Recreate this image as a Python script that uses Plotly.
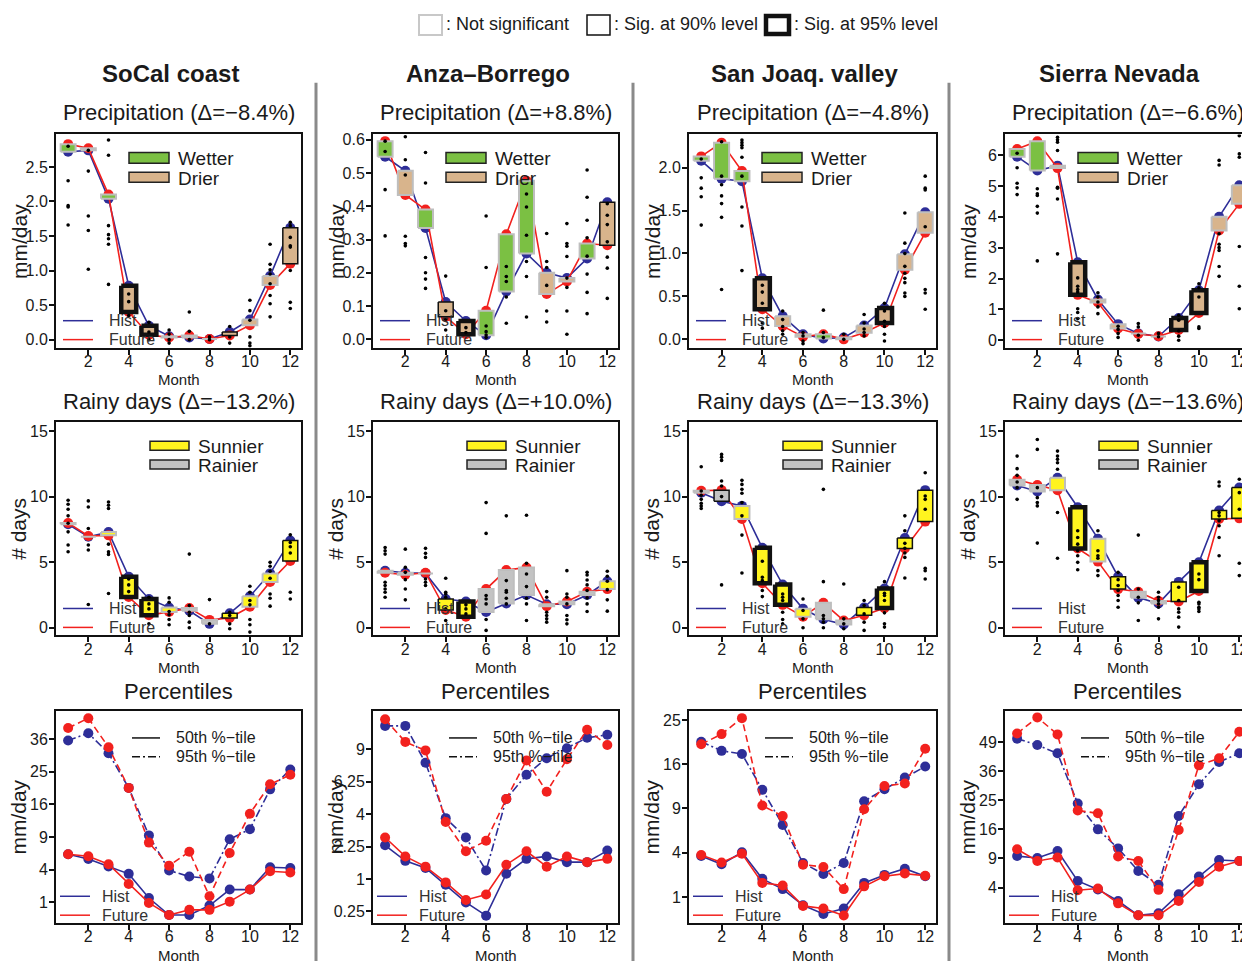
import numpy as np
import plotly.graph_objects as go

W, H = 1250, 963
OFF = 8  # page body margin
FONT = "Liberation Sans, Arial, Helvetica, sans-serif"
months = list(range(1, 13))
month_ticks = [2, 4, 6, 8, 10, 12]

regions = ["SoCal coast", "Anza–Borrego", "San Joaq. valley", "Sierra Nevada"]
pr_titles = ["Precipitation (Δ=−8.4%)", "Precipitation (Δ=+8.8%)",
             "Precipitation (Δ=−4.8%)", "Precipitation (Δ=−6.6%)"]
rd_titles = ["Rainy days (Δ=−13.2%)", "Rainy days (Δ=+10.0%)",
             "Rainy days (Δ=−13.3%)", "Rainy days (Δ=−13.6%)"]

# ---------------- Precipitation (mm/day) ----------------
pr_hist_socal = [2.72, 2.74, 2.04, 0.78, 0.20, 0.05, 0.03, 0.01, 0.11, 0.29, 0.92, 1.62]
pr_fut_socal = [2.83, 2.77, 2.10, 0.40, 0.07, 0.03, 0.06, 0.01, 0.06, 0.21, 0.79, 1.10]
pr_sig_socal = [0, 0, 0, 2, 2, 0, 0, 0, 1, 0, 0, 1]
pr_dots_socal = [
    [2.80, 2.30, 1.94, 1.92, 1.66],
    [2.74, 2.44, 1.79, 1.58, 1.02],
    [2.89, 2.67, 1.65, 1.52, 1.46, 1.38, 0.80],
    [0.66, 0.55, 0.35],
    [0.25, 0.11, 0.0],
    [0.14, 0.08, 0.0, -0.05],
    [0.40, 0.12, 0.0],
    [0.04, 0.0],
    [0.19, 0.04, -0.05],
    [0.57, 0.42, 0.28, 0.04, -0.05, -0.09],
    [1.38, 1.09, 1.01, 0.95, 0.81, 0.64, 0.52, 0.33],
    [1.70, 1.65, 1.48, 1.36, 1.34, 1.00, 0.54, 0.45],
]

pr_hist_anza = [0.549, 0.507, 0.335, 0.112, 0.055, 0.012, 0.144, 0.258, 0.200, 0.184, 0.243, 0.412]
pr_fut_anza = [0.596, 0.434, 0.390, 0.068, 0.015, 0.086, 0.316, 0.477, 0.136, 0.174, 0.288, 0.283]
pr_sig_anza = [0, 0, 0, 1, 2, 0, 0, 0, 0, 0, 0, 1]
pr_dots_anza = [
    [0.596, 0.565, 0.45, 0.311],
    [0.609, 0.54, 0.494, 0.31, 0.288, 0.281],
    [0.562, 0.47, 0.246, 0.20, 0.181, 0.153],
    [0.19, 0.086, 0.06, 0.028],
    [0.035, 0.02],
    [0.371, 0.216, 0.04, 0.023, 0.013, 0.005],
    [0.219, 0.189, 0.174, 0.127, 0.048],
    [0.437, 0.398, 0.313, 0.234, 0.189, 0.067],
    [0.318, 0.234, 0.216, 0.162, 0.085, 0.052],
    [0.348, 0.288, 0.28, 0.249, 0.184, 0.156, 0.085, 0.015],
    [0.509, 0.427, 0.358, 0.305, 0.25, 0.196, 0.141, 0.077],
    [0.408, 0.373, 0.345, 0.293, 0.247, 0.214, 0.123],
]

pr_hist_sj = [2.08, 1.87, 1.84, 0.71, 0.27, 0.058, 0.01, 0.02, 0.16, 0.365, 0.99, 1.48]
pr_fut_sj = [2.13, 2.29, 1.96, 0.35, 0.154, 0.03, 0.06, 0.0, 0.077, 0.19, 0.81, 1.24]
pr_sig_sj = [0, 0, 0, 2, 0, 0, 0, 0, 0, 2, 0, 0]
pr_dots_sj = [
    [2.10, 1.88, 1.76, 1.66, 1.33],
    [2.30, 1.90, 1.80, 1.67, 1.58, 1.42, 0.58],
    [2.32, 2.29, 2.26, 2.23, 2.12, 1.90, 1.54, 1.32, 0.80],
    [0.63, 0.55, 0.42, 0.19, 0.13],
    [0.33, 0.23, 0.15, 0.10, 0.06],
    [0.08, 0.04, -0.02, -0.05],
    [0.34, 0.08, 0.02],
    [0.06, 0.0],
    [0.29, 0.19, 0.12, 0.08, 0.04],
    [0.42, 0.33, 0.21, 0.15, 0.06, -0.02],
    [1.47, 1.12, 1.00, 0.85, 0.77, 0.71, 0.66, 0.54, 0.50],
    [1.90, 1.76, 1.74, 1.31, 0.58, 0.54, 0.35],
]

pr_hist_sierra = [5.95, 5.50, 5.66, 2.53, 1.32, 0.52, 0.22, 0.12, 0.72, 1.62, 4.00, 5.02]
pr_fut_sierra = [6.20, 6.45, 5.58, 1.47, 1.22, 0.38, 0.20, 0.13, 0.33, 0.88, 3.56, 4.42]
pr_sig_sierra = [0, 0, 0, 2, 0, 0, 0, 0, 2, 2, 0, 0]
pr_dots_sierra = [
    [6.06, 5.59, 5.09, 4.94, 4.72],
    [4.91, 4.75, 4.69, 4.34, 4.12, 2.57],
    [6.58, 6.50, 6.42, 6.15, 4.96, 4.93, 4.58, 2.80],
    [2.02, 1.75, 1.64, 1.56, 1.02, 0.90, 0.70],
    [1.54, 1.40, 1.24, 1.08, 0.86],
    [0.45, 0.35, 0.22, 0.09],
    [0.54, 0.43, 0.16, 0.0],
    [0.22, 0.11],
    [0.81, 0.65, 0.30, 0.13, 0.0],
    [1.83, 1.70, 1.40, 0.43, 0.38],
    [5.83, 5.68, 3.45, 3.11, 3.00, 2.91, 2.39, 2.07],
    [6.63, 6.04, 5.93, 3.04, 1.75, 1.02],
]

# ---------------- Rainy days (# days) ----------------
rd_hist_socal = [7.90, 6.95, 7.30, 3.90, 2.20, 1.55, 1.30, 0.30, 1.10, 2.40, 4.15, 6.65]
rd_fut_socal = [8.00, 7.00, 7.05, 2.35, 0.95, 1.20, 1.50, 0.60, 0.75, 1.60, 3.50, 5.10]
rd_sig_socal = [0, 0, 0, 2, 2, 0, 0, 0, 1, 0, 0, 1]
rd_dots_socal = [
    [9.73, 9.42, 9.04, 8.54, 7.98, 7.32, 6.31, 5.80],
    [9.68, 9.22, 7.58, 6.31, 5.93, 1.77],
    [9.60, 9.35, 9.10, 6.38, 5.80, 5.60, 2.61],
    [3.72, 3.27, 2.76],
    [2.33, 1.82, 1.44, 0.30],
    [2.28, 1.95, 1.24, 0.99, 0.63, 0.23],
    [5.62, 1.70, 1.19, 0.94, 0.43, 0.0],
    [2.15, 0.30],
    [1.19, 0.94, 0.30, -0.08],
    [3.17, 2.71, 2.08, 1.75, 0.63, 0.23, -0.33],
    [4.99, 4.69, 4.31, 3.78, 2.58, 2.25, 1.65],
    [7.09, 6.51, 6.18, 5.70, 2.71, 2.20],
]

rd_hist_anza = [4.35, 4.20, 4.15, 2.20, 2.00, 1.20, 1.85, 2.50, 1.80, 1.80, 2.50, 3.55]
rd_fut_anza = [4.20, 4.05, 4.20, 1.35, 0.85, 2.95, 4.40, 4.60, 1.65, 2.00, 2.75, 2.95]
rd_sig_anza = [0, 0, 0, 1, 2, 0, 0, 0, 0, 0, 0, 0]
rd_dots_anza = [
    [6.13, 5.88, 5.62, 3.47, 3.22, 2.96, 2.71, 2.33],
    [6.00, 4.61, 4.23, 3.67, 2.96, 2.13],
    [6.06, 5.68, 5.37, 3.72, 3.47, 3.22],
    [3.78, 2.71, 2.58, 2.33, 1.44, 0.56],
    [1.75, 1.44, 1.06],
    [9.55, 7.20, 2.46, 2.20, 1.82, 0.63, -0.20],
    [8.54, 3.60, 2.84, 2.71, 2.25, 1.82],
    [8.59, 4.92, 4.10, 3.14, 2.25, 1.82, 0.56],
    [2.76, 2.33, 1.19, 0.94, 0.68, 0.43],
    [4.36, 2.58, 2.33, 1.82, 0.94, 0.61, 0.30],
    [4.23, 4.03, 3.65, 3.27, 2.84, 2.28, 1.82, 1.24],
    [4.31, 3.93, 3.55, 2.91, 2.13, 1.27],
]

rd_hist_sj = [10.30, 9.65, 9.30, 6.10, 3.30, 1.45, 0.65, 0.25, 1.55, 3.00, 6.85, 10.50]
rd_fut_sj = [10.45, 10.50, 8.30, 3.40, 1.75, 0.85, 1.90, 0.55, 0.95, 1.50, 6.05, 8.10]
rd_sig_sj = [0, 1, 0, 2, 2, 0, 0, 0, 1, 2, 1, 1]
rd_dots_sj = [
    [12.29, 10.44, 10.11, 9.80, 9.50, 9.30, 9.10],
    [13.23, 13.02, 12.77, 11.20, 10.82, 10.01, 3.27],
    [11.25, 10.94, 10.56, 10.26, 9.55, 8.54, 7.07, 4.18],
    [5.07, 3.85, 3.60, 2.84, 2.38],
    [2.58, 2.33, 2.08, 1.19, 0.63, 0.30],
    [2.20, 1.32, 0.68, 0.0],
    [10.56, 3.52, 0.94, 0.68, 0.43, 0.0],
    [3.34, 0.68, 0.30, -0.08],
    [2.08, 1.70, 1.06, 0.43, -0.20],
    [3.52, 2.63, 2.46, 2.08, 1.14, 0.30, 0.05],
    [8.54, 7.40, 6.44, 6.06, 5.70, 5.37, 3.80],
    [11.83, 10.06, 9.80, 9.04, 4.54, 4.36, 3.72],
]

rd_hist_sierra = [10.85, 10.40, 11.45, 9.20, 6.80, 3.90, 2.30, 1.85, 3.50, 5.00, 8.95, 10.70]
rd_fut_sierra = [11.30, 10.90, 10.50, 6.05, 5.05, 2.95, 2.75, 2.05, 2.00, 2.80, 8.30, 8.35]
rd_sig_sierra = [0, 0, 0, 2, 0, 1, 0, 0, 1, 2, 1, 1]
rd_dots_sierra = [
    [13.10, 12.14, 11.63, 11.12, 10.69, 9.80],
    [14.37, 13.61, 10.69, 9.93, 9.55, 9.30, 6.46],
    [13.48, 13.10, 12.85, 12.59, 12.09, 8.79, 5.30],
    [7.40, 6.89, 6.38, 5.88, 5.50, 4.99, 4.43],
    [7.40, 5.88, 5.50, 5.30, 4.36, 3.98],
    [4.23, 3.67, 3.22, 2.84, 2.46, 2.08, 1.57],
    [7.07, 2.96, 2.33, 1.90, 0.56],
    [2.71, 2.33, 2.08, 1.82, 1.57, 0.68],
    [3.09, 2.08, 1.44, 1.19, 0.81, 0.05],
    [4.10, 3.67, 1.95, 1.82, 1.57, 1.44, 1.24],
    [11.12, 10.82, 8.79, 8.54, 8.16, 7.78, 6.89, 5.50],
    [11.33, 10.31, 9.04, 4.92, 3.98],
]

# ---------------- Percentiles (mm/day, sqrt axis) ----------------
p95_hist_socal = [35.5, 38.2, 31.0, 20.3, 9.3, 3.9, 3.2, 3.0, 8.6, 10.5, 19.9, 25.7]
p95_fut_socal = [40.2, 44.1, 33.1, 20.3, 8.0, 4.5, 6.5, 1.4, 6.3, 13.8, 21.3, 24.1]
p50_hist_socal = [6.1, 5.4, 4.4, 3.5, 1.28, 0.37, 0.37, 0.81, 1.93, 1.93, 4.3, 4.2]
p50_fut_socal = [6.1, 5.8, 4.7, 2.43, 0.96, 0.37, 0.59, 0.59, 1.04, 1.93, 3.8, 3.65]

p95_hist_anza = [11.3, 11.3, 7.8, 3.76, 2.69, 1.28, 5.0, 6.8, 8.2, 9.1, 10.1, 10.4]
p95_fut_anza = [12.0, 9.7, 8.9, 3.53, 2.04, 2.53, 5.0, 8.0, 5.5, 8.1, 10.9, 9.4]
p50_hist_anza = [2.31, 1.64, 1.37, 0.83, 0.41, 0.19, 1.17, 1.72, 1.82, 1.59, 1.59, 2.07]
p50_fut_anza = [2.69, 1.82, 1.42, 0.90, 0.46, 0.58, 1.49, 2.04, 1.42, 1.82, 1.59, 1.72]

p95_hist_sj = [20.3, 18.5, 17.9, 11.7, 6.9, 3.13, 2.31, 3.13, 10.0, 11.8, 13.7, 15.6]
p95_fut_sj = [19.8, 21.9, 25.4, 9.4, 8.0, 3.0, 2.82, 1.39, 8.9, 12.3, 12.7, 18.9]
p50_hist_sj = [3.72, 3.03, 4.04, 1.99, 1.39, 0.66, 0.38, 0.55, 1.74, 2.25, 2.69, 2.16]
p50_fut_sj = [3.80, 3.17, 3.92, 1.74, 1.59, 0.64, 0.55, 0.34, 1.54, 2.16, 2.34, 2.19]

p95_hist_sierra = [50.6, 47.5, 43.7, 23.9, 16.0, 11.2, 6.6, 4.4, 19.9, 30.8, 39.8, 43.7]
p95_fut_sierra = [53.1, 61.5, 52.7, 21.6, 20.7, 9.4, 8.5, 3.7, 15.8, 38.4, 41.5, 54.0]
p50_hist_sierra = [9.5, 9.1, 10.6, 4.97, 3.76, 2.37, 1.10, 1.25, 3.13, 5.66, 8.7, 8.5]
p50_fut_sierra = [11.0, 8.5, 9.2, 3.65, 3.88, 2.13, 1.10, 1.10, 2.37, 4.80, 7.4, 8.5]

# axis tick values
pr_ticks = [[0, 0.5, 1.0, 1.5, 2.0, 2.5], [0, 0.1, 0.2, 0.3, 0.4, 0.5, 0.6],
            [0, 0.5, 1.0, 1.5, 2.0], [0, 1, 2, 3, 4, 5, 6]]
pr_fmt = [".1f", ".1f", ".1f", "d"]
rd_ticks = [0, 5, 10, 15]
pc_ticks = [[1, 4, 9, 16, 25, 36], [0.25, 1, 2.25, 4, 6.25, 9],
            [1, 4, 9, 16, 25], [4, 9, 16, 25, 36, 49]]
pc_ticktext = [["1", "4", "9", "16", "25", "36"], ["0.25", "1", "2.25", "4", "6.25", "9"],
               ["1", "4", "9", "16", "25"], ["4", "9", "16", "25", "36", "49"]]

# axis ranges
pr_ranges = [[-0.115, 2.97], [-0.025, 0.616], [-0.096, 2.385], [-0.24, 6.67]]
rd_range = [-0.58, 15.68]
pc_ranges_sqrt = [[0.36, 6.86], [0.32, 3.59], [0.41, 5.20], [0.78, 8.06]]
x_range = [0.4, 12.53]

# styles
BLUE = "#2E2E98"
RED = "#F2211E"
GREEN = "#7BC043"
TAN = "#D8B48C"
YELLOW = "#FFF41F"
GRAYF = "#C3C3C3"
BORDER = {0: ("#BEBEBE", 2.0), 1: ("#111111", 1.5), 2: ("#111111", 4.5)}
HW = 0.37

col_px = [(56, 301), (373, 618), (689, 936), (1005, 1250)]
row_px = [(132, 346), (421, 635), (711, 924)]

pr_hist = [pr_hist_socal, pr_hist_anza, pr_hist_sj, pr_hist_sierra]
pr_fut = [pr_fut_socal, pr_fut_anza, pr_fut_sj, pr_fut_sierra]
pr_sig = [pr_sig_socal, pr_sig_anza, pr_sig_sj, pr_sig_sierra]
pr_dots = [pr_dots_socal, pr_dots_anza, pr_dots_sj, pr_dots_sierra]
rd_hist = [rd_hist_socal, rd_hist_anza, rd_hist_sj, rd_hist_sierra]
rd_fut = [rd_fut_socal, rd_fut_anza, rd_fut_sj, rd_fut_sierra]
rd_sig = [rd_sig_socal, rd_sig_anza, rd_sig_sj, rd_sig_sierra]
rd_dots = [rd_dots_socal, rd_dots_anza, rd_dots_sj, rd_dots_sierra]
p95h = [p95_hist_socal, p95_hist_anza, p95_hist_sj, p95_hist_sierra]
p95f = [p95_fut_socal, p95_fut_anza, p95_fut_sj, p95_fut_sierra]
p50h = [p50_hist_socal, p50_hist_anza, p50_hist_sj, p50_hist_sierra]
p50f = [p50_fut_socal, p50_fut_anza, p50_fut_sj, p50_fut_sierra]

FW, FH = W - OFF, H - OFF


def px(x):
    return (x - OFF) / FW


def py(y):
    return 1 - (y - OFF) / FH


fig = go.Figure()
layout = dict(width=FW, height=FH, margin=dict(l=0, r=0, t=0, b=0),
              paper_bgcolor="white", plot_bgcolor="white", showlegend=False,
              font=dict(family=FONT, color="#1a1a1a"))
annotations = []
shapes = []


def ann(text, x, y, size, xanchor="center", angle=0, color="#1a1a1a"):
    annotations.append(dict(text=text, x=px(x), y=py(y), xref="paper", yref="paper",
                            showarrow=False, xanchor=xanchor, yanchor="middle",
                            textangle=angle, font=dict(size=size, family=FONT, color=color)))


def rect(x0, y0, x1, y1, fill, line, lw):
    shapes.append(dict(type="rect", xref="paper", yref="paper", x0=px(x0), x1=px(x1),
                       y0=py(y1), y1=py(y0), fillcolor=fill,
                       line=dict(color=line, width=lw), layer="above"))


def hline(x0, x1, y, color, lw, dash="solid"):
    shapes.append(dict(type="line", xref="paper", yref="paper", x0=px(x0), x1=px(x1),
                       y0=py(y), y1=py(y), line=dict(color=color, width=lw, dash=dash),
                       layer="above"))


def setup_axes(k, c, r, yrange, tickvals, ticktext=None, fmt=None):
    xa = "xaxis" if k == 1 else f"xaxis{k}"
    ya = "yaxis" if k == 1 else f"yaxis{k}"
    xs = "x" if k == 1 else f"x{k}"
    ys = "y" if k == 1 else f"y{k}"
    x0, x1 = col_px[c]
    y0, y1 = row_px[r]
    layout[xa] = dict(domain=[px(x0), min(px(x1), 1.0)], range=x_range, anchor=ys,
                      tickvals=month_ticks, ticks="outside", ticklen=5, tickwidth=1.5,
                      tickcolor="#111", showline=True, linecolor="#111", linewidth=2,
                      mirror=True, showgrid=False, zeroline=False, ticklabelstandoff=-7,
                      tickfont=dict(size=16, family=FONT, color="#1a1a1a"))
    yd = dict(domain=[py(y1), py(y0)], range=yrange, anchor=xs, tickvals=tickvals,
              ticks="outside", ticklen=5, tickwidth=1.5, tickcolor="#111",
              showline=True, linecolor="#111", linewidth=2, mirror=(c < 3),
              showgrid=False, zeroline=False, ticklabelstandoff=-2,
              tickfont=dict(size=16, family=FONT, color="#1a1a1a"))
    if ticktext is not None:
        yd["ticktext"] = ticktext
    if fmt is not None:
        yd["tickformat"] = fmt
    layout[ya] = yd
    return xs, ys


def add_mean_lines(xs, ys, hist, fut):
    for vals, col in ((hist, BLUE), (fut, RED)):
        fig.add_trace(go.Scatter(x=months, y=vals, mode="lines+markers", xaxis=xs, yaxis=ys,
                                 line=dict(color=col, width=1.6),
                                 marker=dict(color=col, size=10), cliponaxis=False))


def add_boxes(xs, ys, hist, fut, sig, kind):
    groups = {}
    for i, m in enumerate(months):
        h, f = hist[i], fut[i]
        if kind == "pr":
            fill = GREEN if f > h else TAN
        else:
            fill = YELLOW if f < h else GRAYF
        key = (sig[i], fill)
        gx, gy = groups.setdefault(key, ([], []))
        gx += [m - HW, m + HW, m + HW, m - HW, m - HW, None]
        gy += [h, h, f, f, h, None]
    for (s, fill) in sorted(groups.keys()):
        gx, gy = groups[(s, fill)]
        lc, lw = BORDER[s]
        fig.add_trace(go.Scatter(x=gx, y=gy, mode="lines", fill="toself", fillcolor=fill,
                                 line=dict(color=lc, width=lw), xaxis=xs, yaxis=ys))


def add_dots(xs, ys, dots):
    dx, dy = [], []
    for i, m in enumerate(months):
        for v in dots[i]:
            dx.append(m)
            dy.append(v)
    fig.add_trace(go.Scatter(x=dx, y=dy, mode="markers", xaxis=xs, yaxis=ys,
                             marker=dict(color="black", size=3.6)))


def hist_future_legend(c, r, line_off=(7, 37), text_off=51):
    x0 = col_px[c][0]
    yb = row_px[r][1]
    hline(x0 + line_off[0], x0 + line_off[1], yb - 27, BLUE, 1.5)
    hline(x0 + line_off[0], x0 + line_off[1], yb - 8, RED, 1.5)
    ann("Hist", x0 + text_off, yb - 27, 16, xanchor="left", color="#333")
    ann("Future", x0 + text_off, yb - 8, 16, xanchor="left", color="#333")


k = 0
for c in range(4):
    xl, xr = col_px[c]
    xc = (xl + xr) / 2
    # ---- precipitation ----
    k += 1
    xs, ys = setup_axes(k, c, 0, pr_ranges[c], pr_ticks[c], fmt=pr_fmt[c])
    add_mean_lines(xs, ys, pr_hist[c], pr_fut[c])
    add_boxes(xs, ys, pr_hist[c], pr_fut[c], pr_sig[c], "pr")
    add_dots(xs, ys, pr_dots[c])
    yt = row_px[0][0]
    rect(xl + 73, yt + 18, xl + 113, yt + 29, GREEN, "#222", 1.5)
    rect(xl + 73, yt + 38, xl + 113, yt + 48, TAN, "#222", 1.5)
    ann("Wetter", xl + 120, yt + 24, 19, xanchor="left")
    ann("Drier", xl + 120, yt + 44, 19, xanchor="left")
    hist_future_legend(c, 0)
    ann(pr_titles[c], xc, 110, 22)
    ann("mm/day", xl - 37, 240, 21, angle=-90)
    ann("Month", xc, 378, 15)

    # ---- rainy days ----
    k += 1
    xs, ys = setup_axes(k, c, 1, rd_range, rd_ticks)
    add_mean_lines(xs, ys, rd_hist[c], rd_fut[c])
    add_boxes(xs, ys, rd_hist[c], rd_fut[c], rd_sig[c], "rd")
    add_dots(xs, ys, rd_dots[c])
    yt = row_px[1][0]
    rect(xl + 94, yt + 19, xl + 133, yt + 28, YELLOW, "#222", 1.5)
    rect(xl + 94, yt + 38, xl + 133, yt + 47, GRAYF, "#222", 1.5)
    ann("Sunnier", xl + 140, yt + 24, 19, xanchor="left")
    ann("Rainier", xl + 140, yt + 43, 19, xanchor="left")
    hist_future_legend(c, 1)
    ann(rd_titles[c], xc, 400, 22)
    ann("# days", xl - 37, 528, 21, angle=-90)
    ann("Month", xc, 667, 15)

    # ---- percentiles ----
    k += 1
    xs, ys = setup_axes(k, c, 2, pc_ranges_sqrt[c], list(np.sqrt(pc_ticks[c])),
                        ticktext=pc_ticktext[c])
    series = [(p95h[c], BLUE, "8px,3px,2px,3px"), (p50h[c], BLUE, "solid"),
              (p95f[c], RED, "7px,4px"), (p50f[c], RED, "solid")]
    for vals, col, dash in series:
        fig.add_trace(go.Scatter(x=months, y=np.sqrt(vals), mode="lines+markers",
                                 xaxis=xs, yaxis=ys, line=dict(color=col, width=1.6, dash=dash),
                                 marker=dict(color=col, size=10), cliponaxis=False))
    yt = row_px[2][0]
    hline(xl + 76, xl + 104, yt + 27, "#111", 1.5)
    hline(xl + 76, xl + 104, yt + 46, "#111", 1.5, dash="8px,3px,2px,3px")
    ann("50th %−tile", xl + 118, yt + 27, 16, xanchor="left")
    ann("95th %−tile", xl + 118, yt + 46, 16, xanchor="left")
    hist_future_legend(c, 2, line_off=(4, 34), text_off=44)
    ann("Percentiles", xc, 691, 22)
    ann("mm/day", xl - 37, 818, 21, angle=-90)
    ann("Month", xc, 956, 15)

    # column title
    ann("<b>" + regions[c] + "</b>", xc - 8, 71, 24)

# column separators
for xsep in (316, 633, 949):
    shapes.append(dict(type="line", xref="paper", yref="paper", x0=px(xsep), x1=px(xsep),
                       y0=py(962), y1=py(80), line=dict(color="#8a8a8a", width=3)))

# top significance legend
rect(419, 12, 442, 32, "white", "#C8C8C8", 2)
ann(": Not significant", 444, 21, 18, xanchor="left")
rect(587, 12, 610, 32, "white", "#111", 1.5)
ann(": Sig. at 90% level", 612, 21, 18, xanchor="left")
rect(766, 13, 789, 31, "white", "#111", 4.5)
ann(": Sig. at 95% level", 792, 21, 18, xanchor="left")

layout["annotations"] = annotations
layout["shapes"] = shapes
fig.update_layout(**layout)
fig.write_html("out.html")
